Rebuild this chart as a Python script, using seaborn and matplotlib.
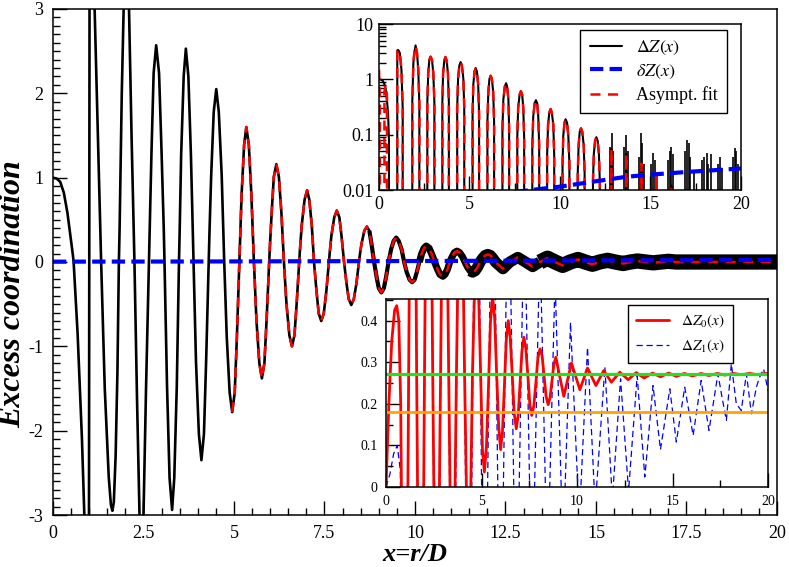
import matplotlib
matplotlib.use("Agg")
import matplotlib.pyplot as plt
from matplotlib.ticker import MultipleLocator, LogLocator, FuncFormatter, NullFormatter
import pandas as pd
import seaborn as sns

# ---- main curve: Delta Z(x) (extrema, flanks, zero crossings) ----
dz_x = [
    0.00, 0.10, 0.20, 0.30, 0.40, 0.50, 0.55, 0.57, 0.68, 0.80,
    0.88, 0.94, 0.99, 1.01, 1.05, 1.10, 1.15, 1.24, 1.31, 1.33,
    1.43, 1.54, 1.60, 1.64, 1.68, 1.73, 1.78, 1.82, 1.84, 1.90,
    1.95, 2.02, 2.10, 2.17, 2.23, 2.25, 2.32, 2.39, 2.44, 2.50,
    2.57, 2.65,
    2.67, 2.72, 2.78, 2.85, 2.93, 3.00, 3.06, 3.08,
    3.15, 3.22, 3.29, 3.35, 3.42, 3.48,
    3.50, 3.54, 3.61, 3.67, 3.74, 3.81, 3.86, 3.88,
    3.95, 4.03, 4.10, 4.17, 4.23, 4.30,
    4.32, 4.37, 4.44, 4.51, 4.58, 4.66, 4.71, 4.73,
    4.80, 4.88, 4.95, 5.02, 5.08, 5.15,
    5.17, 5.21, 5.28, 5.34, 5.41, 5.48, 5.53, 5.55,
    5.62, 5.70, 5.77, 5.84, 5.90, 5.97,
    5.99, 6.04, 6.10, 6.17, 6.24, 6.31, 6.36, 6.38,
    6.45, 6.53, 6.60, 6.67, 6.73, 6.80,
    6.82, 6.87, 6.95, 7.02, 7.08, 7.15, 7.19, 7.21,
    7.28, 7.34, 7.41, 7.48, 7.55, 7.62,
    7.64, 7.69, 7.77, 7.84, 7.91, 7.97, 8.02, 8.04,
    8.11, 8.17, 8.24, 8.31, 8.38, 8.45,
    8.47, 8.52, 8.60, 8.67, 8.74, 8.80, 8.85, 8.87,
    8.94, 9.00, 9.07, 9.14, 9.20, 9.27,
    9.29, 9.34, 9.41, 9.48, 9.55, 9.63, 9.68, 9.70,
    9.77, 9.85, 9.92, 9.99, 10.05, 10.12,
    10.14, 10.18, 10.25, 10.31, 10.39, 10.46, 10.52, 10.54,
    10.62, 10.69, 10.77, 10.83, 10.90, 10.96,
    10.98, 11.03, 11.09, 11.16, 11.23, 11.31, 11.36, 11.38,
    11.45, 11.52, 11.59, 11.66, 11.73, 11.80,
    11.82, 11.87, 11.94, 12.01, 12.08, 12.15, 12.20, 12.22,
    12.43, 12.62, 12.84, 13.05, 13.25, 13.45, 13.66, 13.87,
    14.08, 14.29, 14.50, 14.70, 14.90, 15.10, 15.32, 15.53,
    15.75, 15.95, 16.15, 16.37, 16.58, 16.80, 17.00, 17.20,
    20.00,
]
dz_y = [
    1.00, 0.99, 0.95, 0.82, 0.58, 0.25, 0.08, 0.00, -0.85, -2.10,
    -3.20, -4.40, -4.60, 3.30, 3.40, 3.25, 3.00, 1.50, 0.30, 0.00,
    -1.50, -2.55, -2.88, -2.95, -2.85, -2.30, -1.30, 0.00, 0.40, 2.00,
    3.00, 4.10, 3.00, 1.50, 0.35, 0.00, -1.60, -3.00, -4.00, -3.00,
    -1.50, 0.00,
    0.39, 1.29, 2.24, 2.57, 2.24, 1.29, 0.39, 0.00,
    -1.47, -2.56, -2.94, -2.56, -1.47, 0.00,
    0.38, 1.27, 2.20, 2.53, 2.20, 1.27, 0.38, 0.00,
    -1.18, -2.04, -2.35, -2.04, -1.18, 0.00,
    0.31, 1.03, 1.78, 2.05, 1.78, 1.03, 0.31, 0.00,
    -0.89, -1.55, -1.78, -1.55, -0.89, 0.00,
    0.24, 0.80, 1.39, 1.60, 1.39, 0.80, 0.24, 0.00,
    -0.69, -1.20, -1.38, -1.20, -0.69, 0.00,
    0.17, 0.58, 1.01, 1.16, 1.01, 0.58, 0.17, 0.00,
    -0.50, -0.87, -1.00, -0.87, -0.50, 0.00,
    0.13, 0.43, 0.74, 0.85, 0.74, 0.43, 0.13, 0.00,
    -0.35, -0.61, -0.70, -0.61, -0.35, 0.00,
    0.09, 0.31, 0.53, 0.61, 0.53, 0.31, 0.09, 0.00,
    -0.26, -0.44, -0.51, -0.44, -0.26, 0.00,
    0.063, 0.21, 0.37, 0.42, 0.37, 0.21, 0.063, 0.00,
    -0.18, -0.31, -0.36, -0.31, -0.18, 0.00,
    0.044, 0.15, 0.25, 0.29, 0.25, 0.15, 0.044, 0.00,
    -0.12, -0.21, -0.24, -0.21, -0.12, 0.00,
    0.029, 0.095, 0.165, 0.19, 0.165, 0.095, 0.029, 0.00,
    -0.085, -0.148, -0.17, -0.148, -0.085, 0.00,
    0.020, 0.065, 0.113, 0.13, 0.113, 0.065, 0.020, 0.00,
    -0.06, -0.104, -0.12, -0.104, -0.06, 0.00,
    0.014, 0.045, 0.078, 0.09, 0.078, 0.045, 0.014, 0.00,
    -0.08, 0.00, 0.055, 0.00, -0.055, 0.00, 0.045, 0.00,
    -0.04, 0.00, 0.030, 0.00, -0.027, 0.00, 0.020, 0.00,
    -0.018, 0.00, 0.012, 0.00, -0.010, 0.00, 0.008, 0.00,
    0.00,
]

# asymptotic fit differs from the data only near the origin (seen in the log inset)
fit_head_x = [0.00, 0.05, 0.10, 0.16, 0.22, 0.30, 0.37, 0.44, 0.50, 0.57]
fit_head_y = [1.50, 0.40, 0.00, -0.30, 0.00, 0.60, 0.80, 0.50, 0.00, -0.40]
fit_main_start = 4.95

# delta Z(x)
sz_x = [0.0, 2.0, 4.0, 6.0, 8.4, 10.0, 11.8, 13.7, 15.5, 17.3, 20.0]
sz_y = [0.004, 0.005, 0.006, 0.008, 0.010, 0.0115, 0.0141, 0.0174, 0.0195, 0.0215, 0.0245]

# noisy spikes of Delta Z in the log inset tail
spike_x = [12.75, 12.85, 12.95, 13.55, 13.65, 13.75, 14.35, 14.45, 14.55, 14.65,
           15.05, 15.15, 15.25, 15.95, 16.05, 16.15, 16.25, 16.90, 17.00, 17.10,
           17.20, 17.40, 17.85, 17.95, 18.10, 18.20, 18.35, 18.75, 18.85, 18.95,
           19.55, 19.65, 19.75, 19.85]
spike_top = [0.06, 0.105, 0.05, 0.06, 0.10, 0.05, 0.04, 0.105, 0.07, 0.03,
             0.03, 0.046, 0.035, 0.035, 0.05, 0.06, 0.045, 0.05, 0.08, 0.07,
             0.04, 0.02, 0.035, 0.04, 0.046, 0.03, 0.044, 0.03, 0.04, 0.025,
             0.04, 0.057, 0.05, 0.03]

# ---- lower inset: Delta Z_0 and Delta Z_1 ----
dz0_x = [
    0.00, 0.15, 0.30, 0.45, 0.56, 0.67, 0.77, 0.87, 0.98, 1.08,
    1.19, 1.30, 1.40, 1.50, 1.60, 1.71, 1.81, 1.92, 2.02, 2.12,
    2.23, 2.34, 2.44, 2.55, 2.65, 2.75, 2.86, 2.96, 3.07, 3.17,
    3.28, 3.38, 3.48, 3.59, 3.69, 3.80, 3.90, 4.01, 4.11, 4.22,
    4.32, 4.43, 4.53, 4.64, 4.74, 4.84, 4.95, 5.05, 5.15, 5.26,
    5.37, 5.47, 5.58, 5.69, 5.79, 5.90, 6.00, 6.10, 6.20, 6.30,
    6.40, 6.50, 6.61, 6.71, 6.82, 6.92, 7.02, 7.12, 7.22, 7.32,
    7.43, 7.53, 7.63, 7.74, 7.85, 7.95, 8.06, 8.17, 8.28, 8.38,
    8.49, 8.59, 8.69, 8.79, 8.89, 9.31, 9.71, 10.15, 10.55, 10.99,
    11.40, 11.80, 12.24, 12.68, 13.10, 13.52, 13.95, 14.37, 14.80, 15.20,
    15.62, 16.05, 16.50, 16.90, 17.35, 17.75, 18.20, 18.60, 19.05, 19.45,
    19.90, 20.00,
]
dz0_y = [
    0.000, 0.200, 0.350, 0.425, 0.436, 0.400, 0.200, -0.350, -0.800, -0.450,
    0.300, 1.000, 1.400, 1.000, 0.300, -0.350, -0.600, -0.350, 0.300, 0.850,
    1.100, 0.850, 0.300, -0.200, -0.450, -0.200, 0.280, 0.750, 0.950, 0.750,
    0.280, -0.100, -0.300, -0.100, 0.280, 0.620, 0.750, 0.620, 0.280, -0.030,
    -0.120, -0.030, 0.280, 0.480, 0.550, 0.480, 0.280, 0.090, 0.036, 0.098,
    0.248, 0.398, 0.460, 0.406, 0.275, 0.144, 0.090, 0.135, 0.245, 0.355,
    0.400, 0.362, 0.270, 0.178, 0.140, 0.172, 0.250, 0.328, 0.360, 0.333,
    0.266, 0.199, 0.172, 0.195, 0.252, 0.309, 0.332, 0.317, 0.265, 0.218,
    0.198, 0.215, 0.255, 0.295, 0.312, 0.218, 0.298, 0.234, 0.286, 0.244,
    0.280, 0.252, 0.276, 0.258, 0.275, 0.262, 0.274, 0.265, 0.274, 0.266,
    0.273, 0.267, 0.273, 0.268, 0.273, 0.269, 0.273, 0.270, 0.273, 0.270,
    0.273, 0.272,
]
dz1_x = [
    0.00, 0.20, 0.40, 0.59, 0.75, 0.98, 1.40, 1.81, 2.23, 2.65,
    3.07, 3.48, 3.90, 4.32, 4.74, 5.15, 5.58, 5.99, 6.41, 6.82,
    7.24, 7.64, 8.06, 8.45, 8.85, 9.27, 9.66, 10.12, 10.55, 10.95,
    11.46, 11.85, 12.28, 12.70, 13.15, 13.55, 13.98, 14.37, 14.86, 15.20,
    15.64, 16.08, 16.50, 16.91, 17.38, 17.56, 17.82, 18.08, 18.34, 18.60,
    18.87, 19.13, 19.39, 19.56, 19.77, 20.00,
]
dz1_y = [
    0.000, 0.030, 0.080, 0.100, 0.040, -1.500, 2.000, -1.300, 1.800, -1.100,
    1.600, -0.950, 1.400, -0.800, 1.200, -0.650, 1.000, -0.500, 0.850, -0.400,
    0.700, -0.300, 0.600, -0.220, 0.500, -0.150, 0.396, -0.080, 0.336, -0.050,
    0.288, -0.030, 0.260, -0.010, 0.268, 0.024, 0.244, 0.090, 0.236, 0.108,
    0.240, 0.124, 0.256, 0.136, 0.272, 0.224, 0.160, 0.296, 0.200, 0.184,
    0.272, 0.176, 0.240, 0.264, 0.284, 0.232,
]
level_green = 0.272
level_orange = 0.18

# ---- style ----
sns.set_theme(style="ticks")
plt.rcParams.update({
    "font.family": ["Liberation Serif", "DejaVu Serif"],
    "mathtext.fontset": "stix",
    "axes.unicode_minus": False,
    "axes.edgecolor": "black",
    "axes.linewidth": 1.1,
    "xtick.color": "black", "ytick.color": "black",
    "text.color": "black", "axes.labelcolor": "black",
})
fmt_g = FuncFormatter(lambda v, p: f"{v:g}")


def style_ticks(ax, size, major=10, minor=5, pad=6):
    ax.tick_params(which="both", direction="in", top=False, right=False,
                   width=1.0, labelsize=size, pad=pad)
    ax.tick_params(which="major", length=major)
    ax.tick_params(which="minor", length=minor)


fig = plt.figure(figsize=(7.89, 5.67), dpi=100)

dz = pd.DataFrame({"x": dz_x, "y": dz_y})
fit = pd.concat([pd.DataFrame({"x": fit_head_x, "y": fit_head_y}), dz[dz.x >= 0.68]],
                ignore_index=True)
sz = pd.DataFrame({"x": sz_x, "y": sz_y})

# ── main panel ──
ax = fig.add_axes([0.06717, 0.09171, 0.91762, 0.89242])
sns.lineplot(data=dz, x="x", y="y", ax=ax, color="black", lw=1.9,
             estimator=None, sort=False, legend=False)
# noise band of the simulation data grows with x
for lo, hi, w in [(8.7, 10.2, 3.0), (10.1, 11.6, 5.0), (11.5, 13.5, 8.0), (13.4, 20.0, 11.0)]:
    sub = dz[(dz.x >= lo) & (dz.x <= hi)]
    sns.lineplot(data=sub, x="x", y="y", ax=ax, color="black", lw=w,
                 estimator=None, sort=False, legend=False, solid_capstyle="butt")
sns.lineplot(data=fit[fit.x >= fit_main_start], x="x", y="y", ax=ax, color="red",
             lw=1.8, linestyle=(0, (4, 3)), estimator=None, sort=False, legend=False)
sns.lineplot(data=sz, x="x", y="y", ax=ax, color="blue", lw=3.0,
             linestyle=(0, (3.2, 1.5)), estimator=None, sort=False, legend=False)
ax.set_xlim(0, 20)
ax.set_ylim(-3, 3)
ax.xaxis.set_major_locator(MultipleLocator(2.5))
ax.xaxis.set_minor_locator(MultipleLocator(0.5))
ax.yaxis.set_major_locator(MultipleLocator(1))
ax.yaxis.set_minor_locator(MultipleLocator(0.1))
ax.xaxis.set_major_formatter(fmt_g)
ax.yaxis.set_major_formatter(fmt_g)
style_ticks(ax, 13, major=10, minor=5, pad=7)
ax.set_xlabel("x=r/D", fontsize=19, fontweight="bold", fontstyle="italic")
ax.set_ylabel("Excess coordination", fontsize=23, fontweight="bold", fontstyle="italic")
ax.xaxis.set_label_coords(0.5, -0.056)
ax.yaxis.set_label_coords(-0.035, 0.437)

# ── upper inset: log scale ──
ax1 = fig.add_axes([0.48035, 0.66490, 0.45881, 0.29277])
ax1.set_yscale("log")
ax1.set_xlim(0, 20)
ax1.set_ylim(0.01, 10)
sns.lineplot(data=dz, x="x", y="y", ax=ax1, color="black", lw=1.5,
             estimator=None, sort=False, legend=False, label=r"$\Delta Z(x)$")
ax1.vlines(spike_x, 0.01, spike_top, color="black", lw=1.2)
sns.lineplot(data=fit, x="x", y="y", ax=ax1, color="red", lw=1.8,
             linestyle=(0, (4, 3)), estimator=None, sort=False, legend=False,
             label="Asympt. fit")
sns.lineplot(data=sz, x="x", y="y", ax=ax1, color="blue", lw=3.0,
             linestyle=(0, (3.2, 1.5)), estimator=None, sort=False, legend=False,
             label=r"$\delta Z(x)$")
ax1.set_xlim(0, 20)
ax1.set_ylim(0.01, 10)
ax1.xaxis.set_major_locator(MultipleLocator(5))
ax1.xaxis.set_minor_locator(MultipleLocator(2.5))
ax1.yaxis.set_major_locator(LogLocator(base=10))
ax1.yaxis.set_minor_locator(LogLocator(base=10, subs=range(2, 10)))
ax1.yaxis.set_minor_formatter(NullFormatter())
ax1.xaxis.set_major_formatter(fmt_g)
ax1.yaxis.set_major_formatter(fmt_g)
style_ticks(ax1, 13, major=10, minor=5, pad=4)
ax1.set_xlabel("")
ax1.set_ylabel("")
h, l = ax1.get_legend_handles_labels()
order = [l.index(r"$\Delta Z(x)$"), l.index(r"$\delta Z(x)$"), l.index("Asympt. fit")]
leg1 = ax1.legend([h[i] for i in order], [l[i] for i in order], loc="upper right",
                  bbox_to_anchor=(0.962, 0.965), borderaxespad=0, fancybox=False,
                  edgecolor="black", framealpha=1, fontsize=13, handlelength=1.8,
                  handletextpad=0.8, labelspacing=0.3, borderpad=0.5)
leg1.get_frame().set_linewidth(1.0)

# ── lower inset: Delta Z_0 and Delta Z_1 ──
ax2 = fig.add_axes([0.48923, 0.14109, 0.48416, 0.33157])
sns.lineplot(x=dz1_x, y=dz1_y, ax=ax2, color="blue", lw=0.9, linestyle=(0, (5, 3)),
             estimator=None, sort=False, legend=False, label=r"$\Delta Z_1(x)$")
sns.lineplot(x=dz0_x, y=dz0_y, ax=ax2, color="red", lw=2.0,
             estimator=None, sort=False, legend=False, label=r"$\Delta Z_0(x)$")
ax2.axhline(level_green, color="#22e022", lw=2.3)
ax2.axhline(level_orange, color="#ffa500", lw=2.0)
ax2.set_xlim(0, 20)
ax2.set_ylim(0, 0.452)
ax2.xaxis.set_major_locator(MultipleLocator(5))
ax2.xaxis.set_minor_locator(MultipleLocator(2.5))
ax2.yaxis.set_major_locator(MultipleLocator(0.1))
ax2.yaxis.set_minor_locator(MultipleLocator(0.05))
ax2.xaxis.set_major_formatter(fmt_g)
ax2.yaxis.set_major_formatter(fmt_g)
style_ticks(ax2, 10, major=10, minor=5, pad=6)
ax2.set_xlabel("")
ax2.set_ylabel("")
h, l = ax2.get_legend_handles_labels()
order = [l.index(r"$\Delta Z_0(x)$"), l.index(r"$\Delta Z_1(x)$")]
leg2 = ax2.legend([h[i] for i in order], [l[i] for i in order], loc="upper right",
                  bbox_to_anchor=(0.908, 0.968), borderaxespad=0, fancybox=False,
                  edgecolor="black", framealpha=1, fontsize=11, handlelength=2.2,
                  handletextpad=0.8, labelspacing=0.5, borderpad=0.5)
leg2.get_frame().set_linewidth(1.0)

fig.savefig("out.png", dpi=100)
